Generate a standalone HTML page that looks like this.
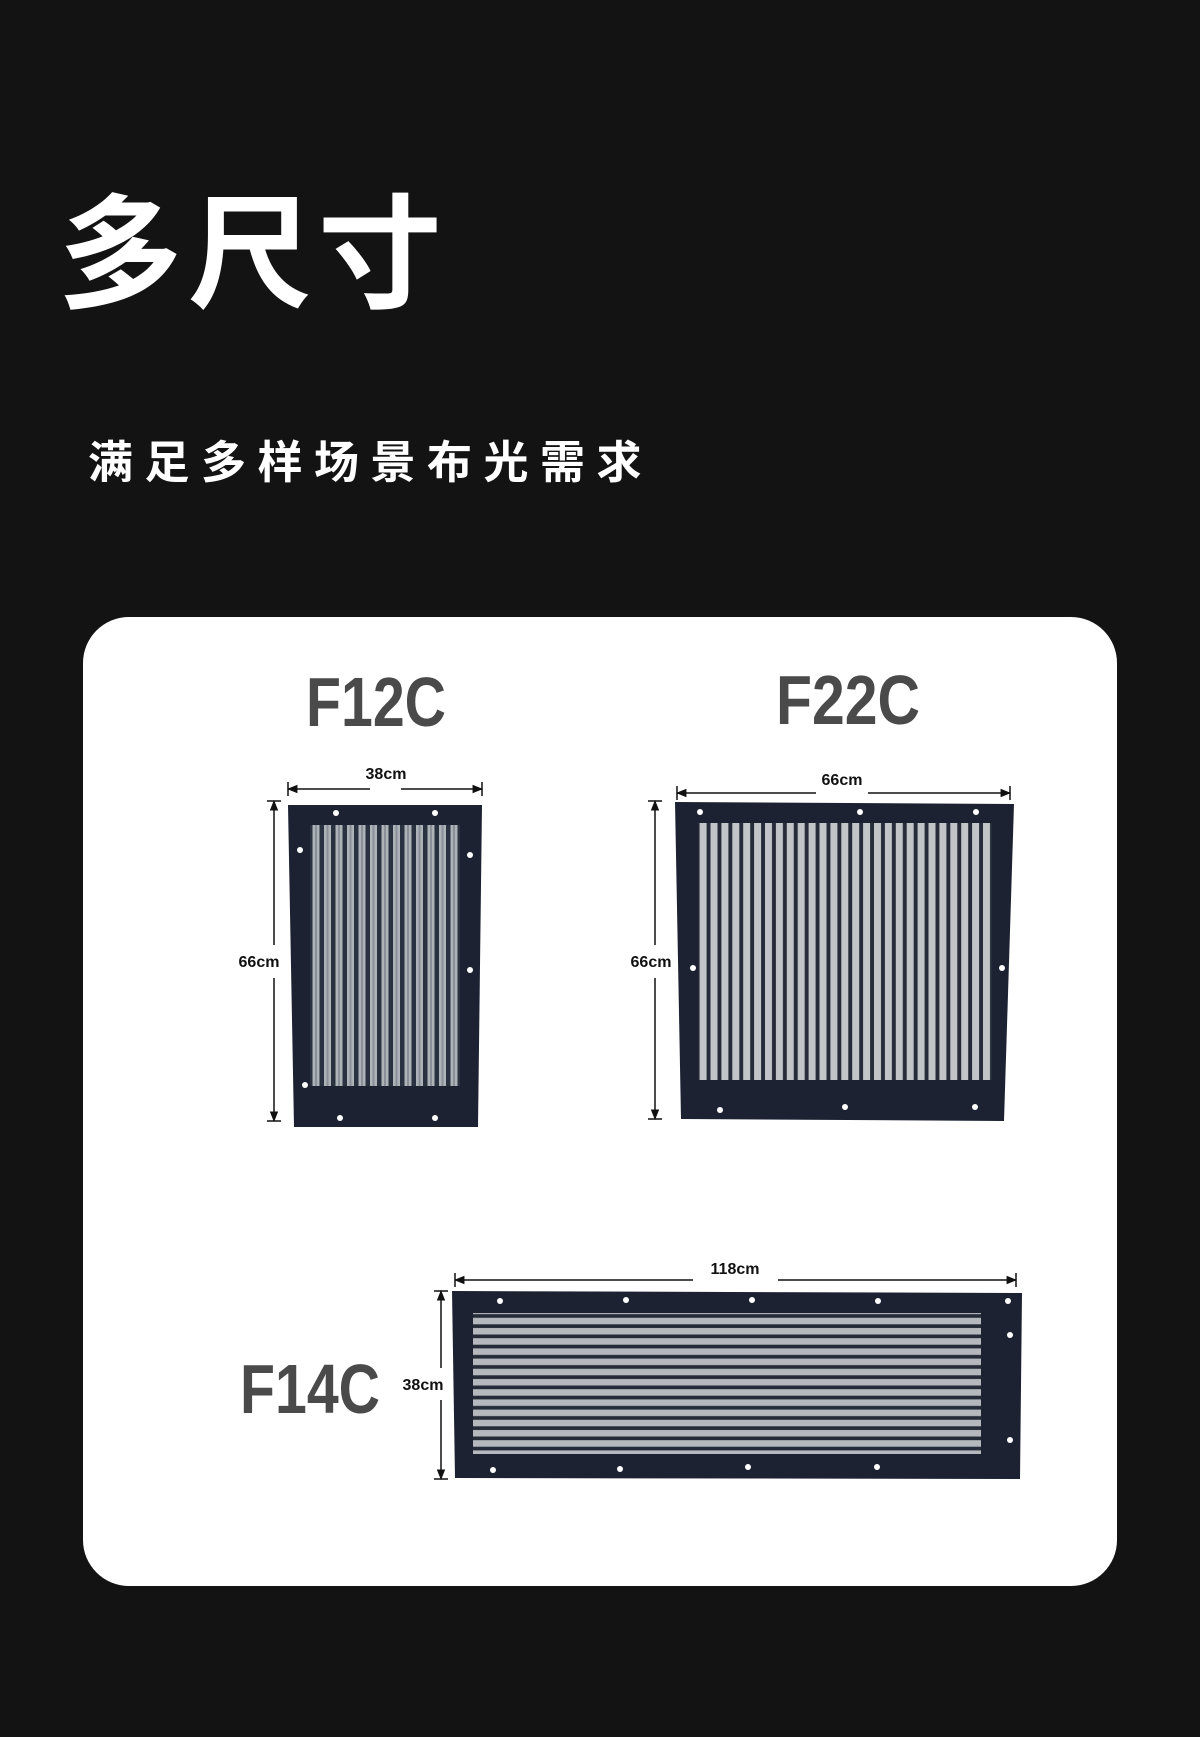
<!DOCTYPE html>
<html><head><meta charset="utf-8"><style>
html,body{margin:0;padding:0;background:#141314;}
body{width:1200px;height:1737px;position:relative;overflow:hidden;font-family:"Liberation Sans","Noto Sans CJK SC",sans-serif;}
.t1{position:absolute;left:58px;top:194px;font-size:124px;color:#fff;font-weight:700;letter-spacing:6px;line-height:1;}
.t2{position:absolute;left:88px;top:440px;font-size:45px;color:#fff;font-weight:700;letter-spacing:11.5px;line-height:1;}
.card{position:absolute;left:83px;top:617px;width:1034px;height:969px;background:#fff;border-radius:46px;}
svg{position:absolute;left:0;top:0;}
</style></head><body>
<div class="t1">多尺寸</div>
<div class="t2">满足多样场景布光需求</div>
<div class="card"></div>
<svg width="1200" height="1737" viewBox="0 0 1200 1737" font-family="Liberation Sans, sans-serif">
<defs>
<pattern id="vs" x="0" y="0" width="11.5" height="10" patternUnits="userSpaceOnUse">
<rect width="11.5" height="10" fill="#2a3140"/><rect x="2" width="7" height="10" fill="#aeb3b8"/><rect x="4.5" width="2" height="10" fill="#8a9097"/></pattern>
<pattern id="vs2" x="0" y="0" width="10.9" height="10" patternUnits="userSpaceOnUse">
<rect width="10.9" height="10" fill="#252b38"/><rect x="2" width="7" height="10" fill="#c2c5c8"/></pattern>
<pattern id="hs" x="0" y="0" width="10" height="10.2" patternUnits="userSpaceOnUse">
<rect width="10" height="10.2" fill="#252b38"/><rect y="2" width="10" height="6.5" fill="#b5b9bd"/></pattern>
<marker id="a" viewBox="0 0 10 10" refX="9" refY="5" markerWidth="7" markerHeight="7" orient="auto-start-reverse"><path d="M0,1 L10,5 L0,9z" fill="#111"/></marker>
</defs>
<g font-weight="900" fill="#4a4a4a" font-size="70" style="font-stretch:condensed">
<text x="306" y="726" textLength="140" lengthAdjust="spacingAndGlyphs">F12C</text>
<text x="776" y="724" textLength="144" lengthAdjust="spacingAndGlyphs">F22C</text>
<text x="240" y="1413" textLength="140" lengthAdjust="spacingAndGlyphs">F14C</text>
</g>
<path d="M288,805 L482,805 L478,1127 L294,1127 Z" fill="#1c2231"/>
<rect x="310" y="825" width="150" height="261" fill="url(#vs)"/>
<g fill="#fff"><circle cx="336" cy="813" r="3"/><circle cx="435" cy="813" r="3"/><circle cx="470" cy="855" r="3"/><circle cx="470" cy="970" r="3"/><circle cx="305" cy="1085" r="3"/><circle cx="340" cy="1118" r="3"/><circle cx="435" cy="1118" r="3"/><circle cx="300" cy="850" r="3"/></g>
<path d="M675,802 L1014,804 L1004,1121 L681,1119 Z" fill="#1c2231"/>
<rect x="698" y="823" width="294" height="257" fill="url(#vs2)"/>
<g fill="#fff"><circle cx="700" cy="812" r="3"/><circle cx="860" cy="812" r="3"/><circle cx="976" cy="812" r="3"/><circle cx="693" cy="968" r="3"/><circle cx="1002" cy="968" r="3"/><circle cx="720" cy="1110" r="3"/><circle cx="845" cy="1107" r="3"/><circle cx="975" cy="1107" r="3"/></g>
<path d="M452,1291 L1022,1293 L1020,1479 L455,1478 Z" fill="#1c2231"/>
<rect x="473" y="1313" width="508" height="141" fill="url(#hs)"/>
<g fill="#fff"><circle cx="500" cy="1301" r="3"/><circle cx="626" cy="1300" r="3"/><circle cx="752" cy="1300" r="3"/><circle cx="878" cy="1301" r="3"/><circle cx="1008" cy="1301" r="3"/><circle cx="493" cy="1470" r="3"/><circle cx="620" cy="1469" r="3"/><circle cx="748" cy="1467" r="3"/><circle cx="877" cy="1467" r="3"/><circle cx="1010" cy="1440" r="3"/><circle cx="1010" cy="1335" r="3"/></g>
<g stroke="#111" stroke-width="1.5" fill="none">
<line x1="288" y1="789" x2="370" y2="789" marker-start="url(#a)"/><line x1="401" y1="789" x2="482" y2="789" marker-end="url(#a)"/>
<line x1="288" y1="782" x2="288" y2="796"/><line x1="482" y1="782" x2="482" y2="796"/>
<line x1="274" y1="801" x2="274" y2="945" marker-start="url(#a)"/><line x1="274" y1="978" x2="274" y2="1121" marker-end="url(#a)"/>
<line x1="267" y1="801" x2="281" y2="801"/><line x1="267" y1="1121" x2="281" y2="1121"/>
<line x1="677" y1="793" x2="816" y2="793" marker-start="url(#a)"/><line x1="868" y1="793" x2="1010" y2="793" marker-end="url(#a)"/>
<line x1="677" y1="786" x2="677" y2="800"/><line x1="1010" y1="786" x2="1010" y2="800"/>
<line x1="655" y1="801" x2="655" y2="945" marker-start="url(#a)"/><line x1="655" y1="978" x2="655" y2="1119" marker-end="url(#a)"/>
<line x1="648" y1="801" x2="662" y2="801"/><line x1="648" y1="1119" x2="662" y2="1119"/>
<line x1="455" y1="1280" x2="693" y2="1280" marker-start="url(#a)"/><line x1="778" y1="1280" x2="1016" y2="1280" marker-end="url(#a)"/>
<line x1="455" y1="1273" x2="455" y2="1287"/><line x1="1016" y1="1273" x2="1016" y2="1287"/>
<line x1="441" y1="1291" x2="441" y2="1368" marker-start="url(#a)"/><line x1="441" y1="1400" x2="441" y2="1479" marker-end="url(#a)"/>
<line x1="434" y1="1291" x2="448" y2="1291"/><line x1="434" y1="1479" x2="448" y2="1479"/>
</g>
<g font-size="16" font-weight="700" fill="#111" text-anchor="middle">
<text x="386" y="779">38cm</text>
<text x="259" y="967">66cm</text>
<text x="842" y="785">66cm</text>
<text x="651" y="967">66cm</text>
<text x="735" y="1274">118cm</text>
<text x="423" y="1390">38cm</text>
</g>
</svg>
</body></html>
